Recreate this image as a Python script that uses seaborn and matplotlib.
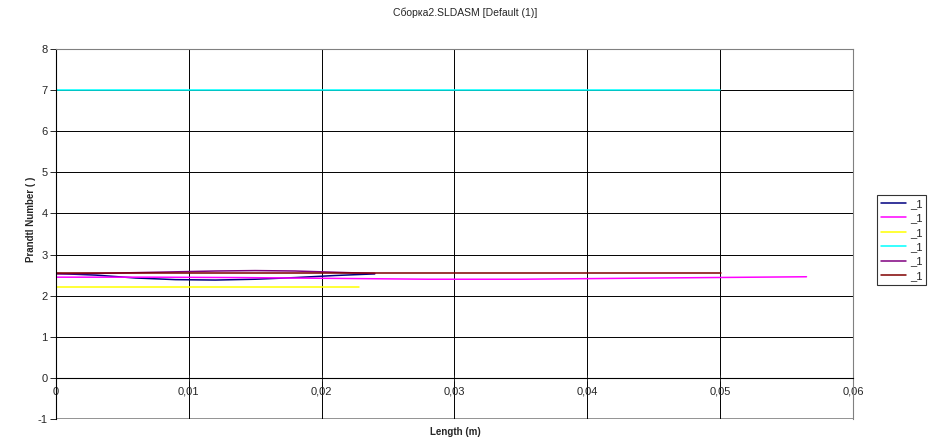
import pandas as pd
import seaborn as sns
import matplotlib.pyplot as plt
from matplotlib.lines import Line2D

# values
navy_x = [0, 0.003, 0.006, 0.009, 0.012, 0.015, 0.018, 0.021, 0.024]
navy_y = [2.54, 2.50, 2.43, 2.39, 2.38, 2.40, 2.44, 2.49, 2.53]
magenta_x = [0, 0.007, 0.014, 0.021, 0.028, 0.035, 0.042, 0.049, 0.0565]
magenta_y = [2.45, 2.45, 2.44, 2.42, 2.40, 2.40, 2.42, 2.44, 2.46]
yellow_x = [0, 0.0228]
yellow_y = [2.22, 2.22]
cyan_x = [0, 0.05]
cyan_y = [7.0, 7.0]
purple_x = [0, 0.003, 0.006, 0.009, 0.012, 0.015, 0.018, 0.021, 0.024]
purple_y = [2.53, 2.54, 2.56, 2.58, 2.60, 2.61, 2.60, 2.57, 2.54]
brown_x = [0, 0.0501]
brown_y = [2.55, 2.55]

series_names = ['navy', 'magenta', 'yellow', 'cyan', 'purple', 'brown']
series_colors = ['#000080', '#FF00FF', '#FFFF00', '#00FFFF', '#800080', '#800000']
legend_labels = ['_1'] * 6

x_ticks = [0, 0.01, 0.02, 0.03, 0.04, 0.05, 0.06]
x_tick_labels = ['0', '0,01', '0,02', '0,03', '0,04', '0,05', '0,06']
y_ticks = [-1, 0, 1, 2, 3, 4, 5, 6, 7, 8]

xs = [navy_x, magenta_x, yellow_x, cyan_x, purple_x, brown_x]
ys = [navy_y, magenta_y, yellow_y, cyan_y, purple_y, brown_y]
frames = []
for name, x, y in zip(series_names, xs, ys):
    frames.append(pd.DataFrame({'series': name, 'Length': x, 'Prandtl': y}))
df = pd.concat(frames, ignore_index=True)

sns.set_style('white')
plt.rcParams['font.family'] = ['Liberation Sans', 'DejaVu Sans']

fig = plt.figure(figsize=(9.31, 4.45), dpi=100)
ax = fig.add_axes([0.0601, 0.0584, 0.8561, 0.8315])

sns.lineplot(data=df, x='Length', y='Prandtl', hue='series', hue_order=series_names,
             palette=dict(zip(series_names, series_colors)), estimator=None,
             sort=False, legend=False, linewidth=1.1, ax=ax)

# x axis crosses at y = 0, like the original (set before ticks, it resets them)
ax.spines['bottom'].set_position(('data', 0))
ax.spines['bottom'].set_color('black')
ax.spines['left'].set_color('black')
ax.spines['top'].set_color('#808080')
ax.spines['right'].set_color('#808080')

ax.set_xlim(0, 0.06)
ax.set_ylim(-1, 8)
ax.set_xticks(x_ticks)
ax.set_xticklabels(x_tick_labels)
ax.set_yticks(y_ticks)
ax.set_yticklabels([str(v) for v in y_ticks])

ax.grid(True, color='black', linewidth=0.7)
ax.set_axisbelow(True)
ax.axhline(-1, color='#808080', linewidth=1.2, zorder=0)
ax.tick_params(axis='x', direction='inout', length=5, width=0.7, pad=4, bottom=True, labelsize=8)
ax.tick_params(axis='y', direction='out', length=4, width=0.7, pad=2, left=True, labelsize=8)

ax.set_xlabel('')
ax.set_ylabel('Prandtl Number ( )', fontsize=7, fontweight='bold')
ax.yaxis.set_label_coords(-0.025, 0.54)
fig.text(0.489, 0.029, 'Length (m)', ha='center', va='center', fontsize=7, fontweight='bold')
fig.text(0.5, 0.971, 'Сборка2.SLDASM [Default (1)]', ha='center', va='center', fontsize=7.5)

handles = [Line2D([0], [0], color=c, linewidth=1.1) for c in series_colors]
leg = fig.legend(handles, legend_labels, loc='center left', bbox_to_anchor=(0.942, 0.461),
                 fontsize=8, frameon=True, fancybox=False, handlelength=2.3,
                 borderpad=0.35, labelspacing=0.4, handletextpad=0.3, borderaxespad=0)
leg.get_frame().set_edgecolor('black')
leg.get_frame().set_linewidth(0.8)

plt.savefig('out.png', dpi=100)
plt.close()
